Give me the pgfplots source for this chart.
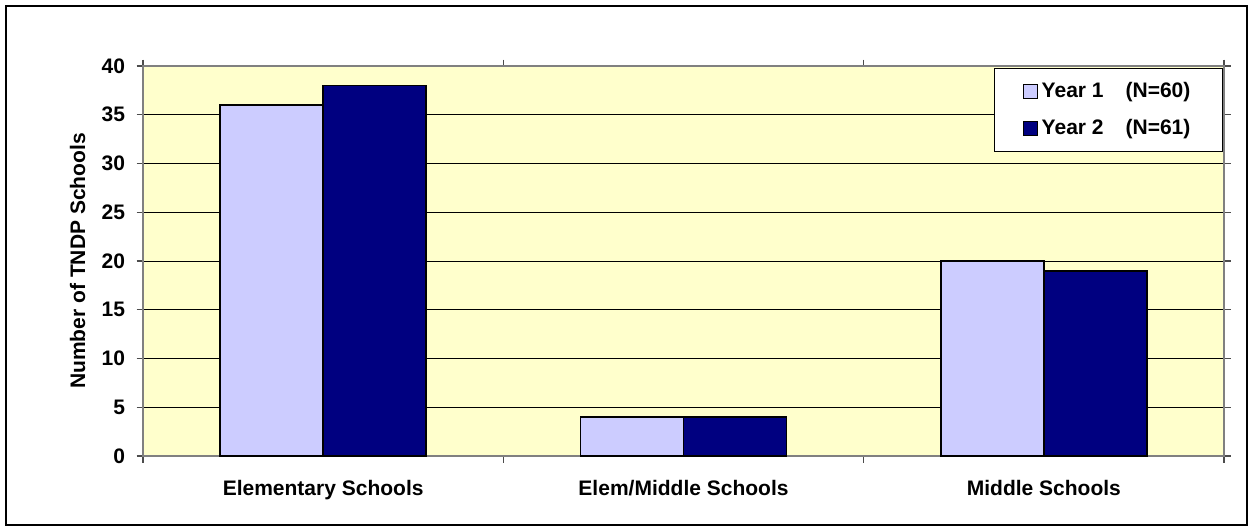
\documentclass[border=0pt]{standalone}
\usepackage{fontspec}
\setmainfont{Liberation Sans}
\usepackage{pgfplots}
\pgfplotsset{compat=1.18}
\definecolor{bgyellow}{HTML}{FFFFCC}
\definecolor{yearone}{HTML}{CCCCFF}
\definecolor{yeartwo}{HTML}{000080}
\begin{document}
\begin{tikzpicture}[font=\bfseries\fontsize{10.5}{12.6}\selectfont]
\path[use as bounding box] (0,0) rectangle (626.5pt,265.5pt);
\draw[black, line width=1pt] (3pt,3pt) rectangle (623.5pt,262.5pt);
\begin{axis}[
  at={(71.5pt,37.5pt)}, anchor=south west,
  scale only axis, width=540.5pt, height=195pt,
  xmin=-0.5, xmax=2.5, ymin=0, ymax=40,
  ybar=0pt, bar width=51.5pt,
  xtick={-0.5,0.5,1.5,2.5}, xticklabels={},
  extra x ticks={0,1,2},
  extra x tick labels={Elementary Schools, Elem/Middle Schools, Middle Schools},
  extra x tick style={grid=none, tick style={draw=none}, tick label style={yshift=-5.5pt}},
  ytick={0,5,...,40},
  ymajorgrids, grid style={black, line width=0.5pt},
  axis line style={gray, line width=0.8pt},
  axis background/.style={fill=bgyellow},
  tick align=outside,
  major tick length=3.25pt,
  tick style={black!70, line width=0.6pt},
  /pgf/number format/assume math mode=true,
  yticklabel style={xshift=-2.25pt},
  ylabel={Number of TNDP Schools},
  every axis y label/.style={at={(axis description cs:-0.0606,0.5)}, rotate=90, anchor=center},
  legend style={at={(1,1)}, xshift=-0.5pt, yshift=-1pt, anchor=north east, draw=black, line width=0.6pt, fill=white, inner xsep=14pt, inner ysep=5pt, row sep=5.4pt},
  legend cell align=left,
  every axis plot post/.append style={legend image code/.code={\draw[#1, draw=black, line width=0.6pt] (0pt,-3.5pt) rectangle (7pt,3.5pt);}},
]
\addplot[fill=yearone, draw=black, line width=0.9pt] coordinates {(0,36) (1,4) (2,20)};
\addplot[fill=yeartwo, draw=black, line width=0.9pt] coordinates {(0,38) (1,4) (2,19)};
\legend{Year 1\hspace{11pt}(N=60), Year 2\hspace{11pt}(N=61)}
\end{axis}
\end{tikzpicture}
\end{document}
